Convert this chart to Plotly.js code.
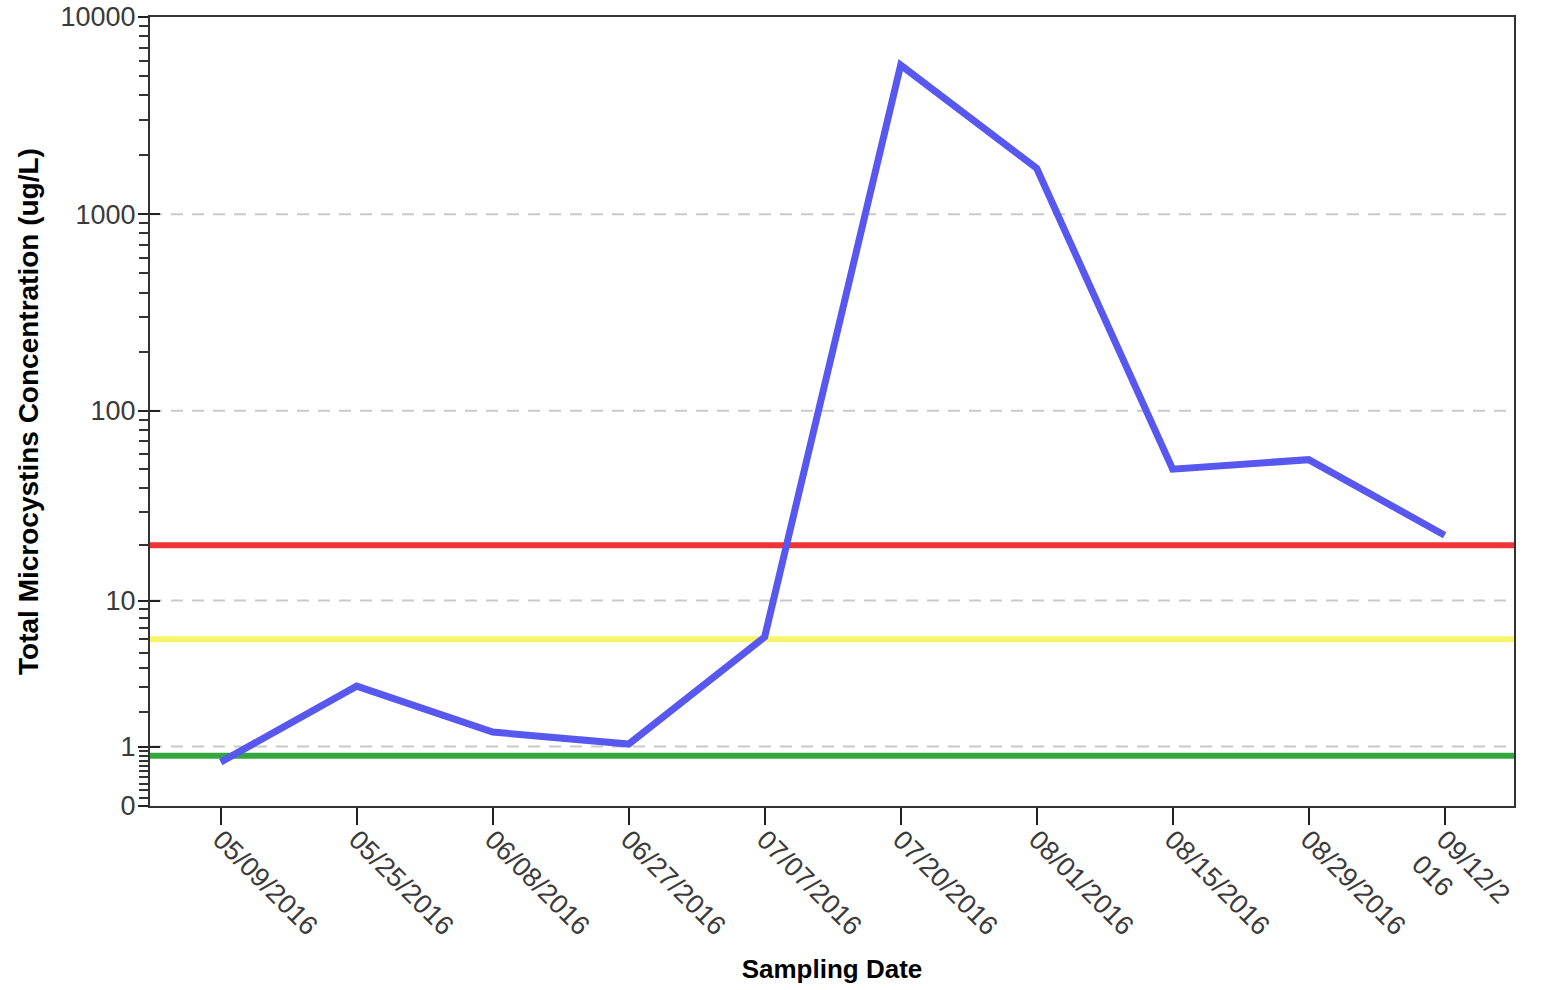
<!DOCTYPE html>
<html>
<head>
<meta charset="utf-8">
<script src="https://cdn.plot.ly/plotly-3.0.1.min.js"></script>
<style>
  html, body { margin: 0; padding: 0; background: #fff; }
  #chart { width: 1542px; height: 990px; }
</style>
</head>
<body>
<div id="chart"></div>
<script>
// Sampling dates and total microcystins (ug/L)
const sampleDates = ["05/09/2016", "05/25/2016", "06/08/2016", "06/27/2016", "07/07/2016",
                     "07/20/2016", "08/01/2016", "08/15/2016", "08/29/2016", "09/12/2016"];
const dateLabels = ["05/09/2016", "05/25/2016", "06/08/2016", "06/27/2016", "07/07/2016",
                    "07/20/2016", "08/01/2016", "08/15/2016", "08/29/2016", "09/12/2<br>016"];
const microcystins = [0.67, 3.05, 1.37, 1.06, 6.2, 5700, 1710, 50, 56, 22.6];

// Guideline levels (ug/L)
const thresholdValues = [20, 6, 0.8];
const thresholdColors = ["#ee3535", "#f7f56e", "#34a83f"];

// Axis ticks (ug/L)
const majorTicks = [0, 1, 10, 100, 1000, 10000];
const majorTickText = ["0", "1", "10", "100", "1000", "10000"];
const minorTicks = [0.1, 0.2, 0.3, 0.4, 0.5, 0.6, 0.7, 0.8, 0.9,
                    2, 3, 4, 5, 6, 7, 8, 9,
                    20, 30, 40, 50, 60, 70, 80, 90,
                    200, 300, 400, 500, 600, 700, 800, 900,
                    2000, 3000, 4000, 5000, 6000, 7000, 8000, 9000];

// Safe-log scale: log10(v + 1) so that zero stays on the axis
const safeLog = v => Math.log10(v + 1);

const xIdx = sampleDates.map((d, i) => i);
const xRange = [-0.52, sampleDates.length - 1 + 0.51];
const yRange = [0, safeLog(10000)];

const traces = [{
  x: xIdx,
  y: microcystins.map(safeLog),
  customdata: microcystins,
  type: "scatter",
  mode: "lines",
  line: { color: "#5858f0", width: 7 },
  hovertemplate: "%{customdata} ug/L<extra></extra>",
  showlegend: false
}, {
  // invisible trace carrying the inside half of the major ticks
  x: [xIdx[0]],
  y: [0],
  yaxis: "y2",
  type: "scatter",
  mode: "markers",
  marker: { opacity: 0 },
  hoverinfo: "skip",
  showlegend: false
}];

const shapes = [];
// dashed gridlines at the major decades
[1, 10, 100, 1000].forEach(v => shapes.push({
  type: "line", xref: "paper", yref: "y", x0: 0, x1: 1, y0: safeLog(v), y1: safeLog(v),
  line: { color: "#c9c9c9", width: 2, dash: "12px,9px" }, layer: "below"
}));
thresholdValues.forEach((v, i) => shapes.push({
  type: "line", xref: "paper", yref: "y", x0: 0, x1: 1, y0: safeLog(v), y1: safeLog(v),
  line: { color: thresholdColors[i], width: 6 }, layer: "between"
}));

const tickFont = { family: "Liberation Sans, Arial, sans-serif", size: 27, color: "#3a3a3a" };

const layout = {
  width: 1542,
  height: 990,
  margin: { l: 150, r: 28, t: 17, b: 184 },
  paper_bgcolor: "#fff",
  plot_bgcolor: "#fff",
  showlegend: false,
  xaxis: {
    range: xRange,
    tickmode: "array",
    tickvals: xIdx,
    ticktext: dateLabels,
    tickangle: 45,
    tickfont: tickFont,
    ticklabelstandoff: -12,
    ticks: "outside",
    ticklen: 17,
    tickwidth: 2,
    tickcolor: "#222",
    showgrid: false,
    zeroline: false,
    showline: true,
    linecolor: "#333",
    linewidth: 2,
    mirror: true,
    automargin: false,
    title: {
      text: "<b>Sampling Date</b>",
      font: { family: "Liberation Sans, Arial, sans-serif", size: 26, color: "#000" },
      standoff: 20
    }
  },
  yaxis: {
    range: yRange,
    tickmode: "array",
    tickvals: majorTicks.map(safeLog),
    ticktext: majorTickText,
    tickfont: tickFont,
    ticklabelstandoff: -3,
    ticks: "outside",
    ticklen: 10,
    tickwidth: 2,
    tickcolor: "#222",
    minor: {
      tickmode: "array",
      tickvals: minorTicks.map(safeLog),
      ticks: "outside",
      ticklen: 9,
      tickwidth: 2,
      tickcolor: "#333",
      showgrid: false
    },
    showgrid: false,
    zeroline: false,
    showline: true,
    linecolor: "#333",
    linewidth: 2,
    mirror: true,
    automargin: false,
    title: {
      text: "<b>Total Microcystins Concentration (ug/L)</b>",
      font: { family: "Liberation Sans, Arial, sans-serif", size: 28, color: "#000" },
      standoff: 14
    }
  },
  yaxis2: {
    overlaying: "y",
    side: "left",
    range: yRange,
    tickmode: "array",
    tickvals: majorTicks.map(safeLog),
    showticklabels: false,
    ticks: "inside",
    ticklen: 10,
    tickwidth: 2,
    tickcolor: "#222",
    showgrid: false,
    zeroline: false,
    showline: false
  },
  shapes: shapes
};

Plotly.newPlot("chart", traces, layout, { displayModeBar: false, staticPlot: true });
</script>
</body>
</html>
